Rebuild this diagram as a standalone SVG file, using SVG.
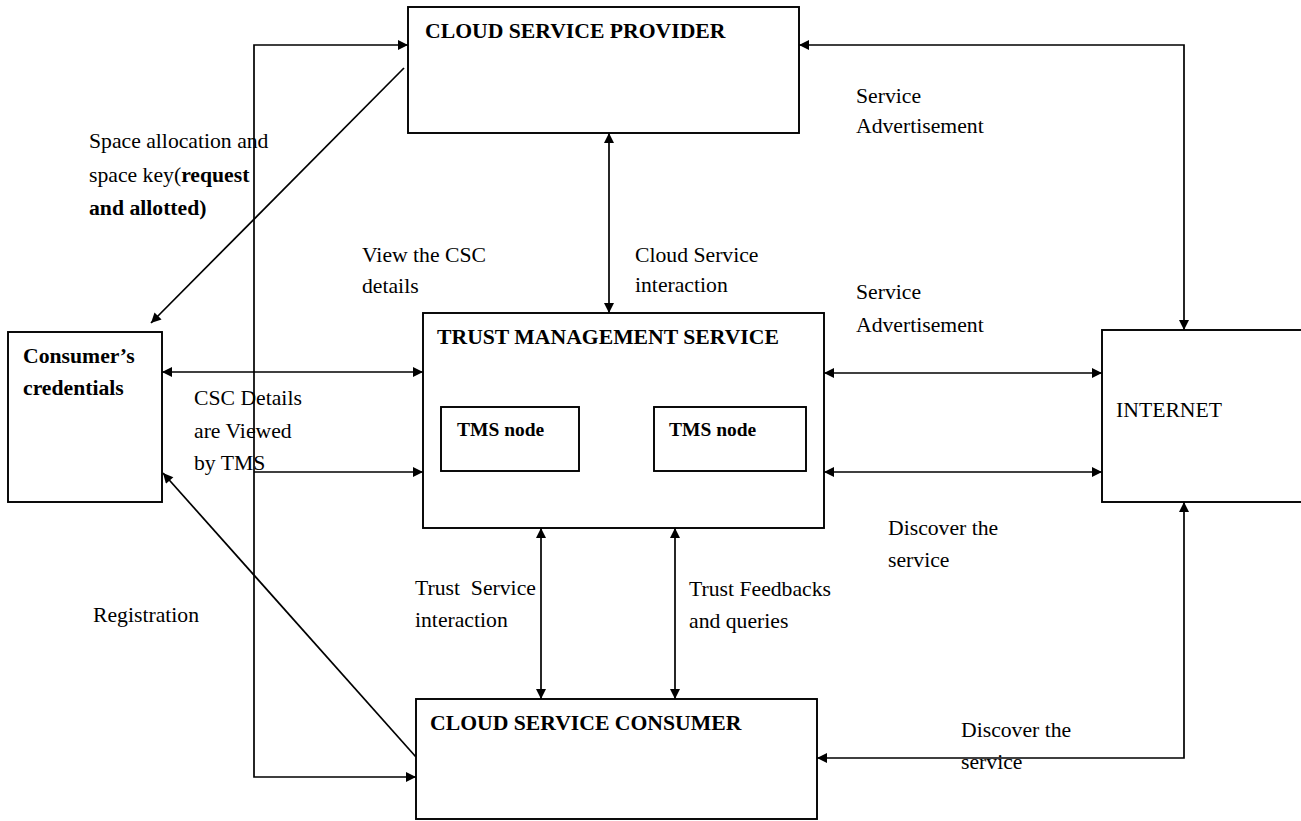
<svg xmlns="http://www.w3.org/2000/svg" width="1301" height="821" viewBox="0 0 1301 821">
<style>
.box{fill:#fff;stroke:#000;stroke-width:1.9}
.ln{fill:none;stroke:#000;stroke-width:1.7}
.t{font-family:"Liberation Serif","Times New Roman",serif;font-size:21.7px;fill:#000}
.b{font-weight:bold}
.s{font-size:19.5px}
</style>
<defs>
<marker id="ah" viewBox="0 0 10 10" refX="10" refY="5" markerWidth="12" markerHeight="10" markerUnits="userSpaceOnUse" orient="auto-start-reverse">
<path d="M0,0 L10,5 L0,10 z" fill="#000"/>
</marker>
</defs>
<rect width="1301" height="821" fill="#fff"/>
<g id="connectors">
<path class="ln" d="M416,777 H254 V45 H408" marker-start="url(#ah)" marker-end="url(#ah)"/>
<path class="ln" d="M799,45 H1184 V330" marker-start="url(#ah)" marker-end="url(#ah)"/>
<path class="ln" d="M609,133 V313" marker-start="url(#ah)" marker-end="url(#ah)"/>
<path class="ln" d="M404,68 L151,323" marker-end="url(#ah)"/>
<path class="ln" d="M162,372 H423" marker-start="url(#ah)" marker-end="url(#ah)"/>
<path class="ln" d="M254,472 H423" marker-end="url(#ah)"/>
<path class="ln" d="M824,373 H1102" marker-start="url(#ah)" marker-end="url(#ah)"/>
<path class="ln" d="M824,472 H1102" marker-start="url(#ah)" marker-end="url(#ah)"/>
<path class="ln" d="M579,439 H654" marker-start="url(#ah)" marker-end="url(#ah)"/>
<path class="ln" d="M541,528 V699" marker-start="url(#ah)" marker-end="url(#ah)"/>
<path class="ln" d="M675,528 V699" marker-start="url(#ah)" marker-end="url(#ah)"/>
<path class="ln" d="M1184,502 V758 H817" marker-start="url(#ah)" marker-end="url(#ah)"/>
<path class="ln" d="M416,757 L163,473" marker-end="url(#ah)"/>
</g>
<g id="csp">
<rect class="box" x="408" y="7" width="391" height="126"/>
<text class="t b" x="425" y="38">CLOUD SERVICE PROVIDER</text>
</g>
<g id="tms">
<rect class="box" x="423" y="313" width="401" height="215"/>
<text class="t b" x="437" y="344">TRUST MANAGEMENT SERVICE</text>
</g>
<g id="tms-node-1">
<rect class="box" x="441" y="407" width="138" height="64"/>
<text class="t b s" x="457" y="436">TMS node</text>
</g>
<g id="tms-node-2">
<rect class="box" x="654" y="407" width="152" height="64"/>
<text class="t b s" x="669" y="436">TMS node</text>
</g>
<g id="credentials">
<rect class="box" x="8" y="332" width="154" height="170"/>
<text class="t b" x="23" y="363">Consumer’s</text>
<text class="t b" x="23" y="395">credentials</text>
</g>
<g id="internet">
<rect class="box" x="1102" y="330" width="210" height="172"/>
<text class="t" x="1116" y="417">INTERNET</text>
</g>
<g id="csc">
<rect class="box" x="416" y="699" width="401" height="120"/>
<text class="t b" x="430" y="730">CLOUD SERVICE CONSUMER</text>
</g>
<g id="labels">
<text class="t" x="856" y="103">Service</text>
<text class="t" x="856" y="133">Advertisement</text>
<text class="t" x="89" y="148">Space allocation and</text>
<text class="t" x="89" y="182">space key(<tspan class="b">request</tspan></text>
<text class="t b" x="89" y="215">and allotted)</text>
<text class="t" x="362" y="262">View the CSC</text>
<text class="t" x="362" y="293">details</text>
<text class="t" x="635" y="262">Cloud Service</text>
<text class="t" x="635" y="292">interaction</text>
<text class="t" x="856" y="299">Service</text>
<text class="t" x="856" y="332">Advertisement</text>
<text class="t" x="194" y="405">CSC Details</text>
<text class="t" x="194" y="438">are Viewed</text>
<text class="t" x="194" y="470">by TMS</text>
<text class="t" x="888" y="535">Discover the</text>
<text class="t" x="888" y="567">service</text>
<text class="t" x="93" y="622">Registration</text>
<text class="t" x="415" y="595" xml:space="preserve">Trust  Service</text>
<text class="t" x="415" y="627">interaction</text>
<text class="t" x="689" y="596">Trust Feedbacks</text>
<text class="t" x="689" y="628">and queries</text>
<text class="t" x="961" y="737">Discover the</text>
<text class="t" x="961" y="769">service</text>
</g>
</svg>
